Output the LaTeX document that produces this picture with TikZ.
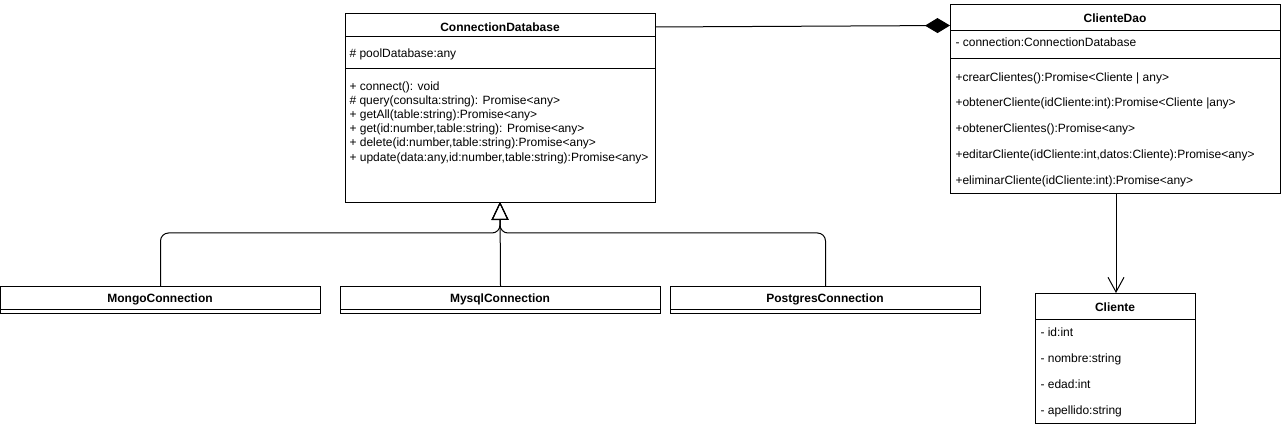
\documentclass[tikz,border=0pt]{standalone}
\usepackage{fontspec}
\setmainfont{Liberation Sans}
\usetikzlibrary{arrows.meta}
\begin{document}
\begin{tikzpicture}[x=0.75pt,y=-0.75pt,
  font=\fontsize{9}{11}\selectfont,
  line width=0.75pt,
  umlbox/.style={draw, inner sep=0pt, anchor=north west},
  title/.style={font=\fontsize{9}{11}\selectfont\bfseries, inner sep=0pt},
  txt/.style={anchor=mid west, inner sep=0pt},
  inherit/.style={-{Triangle[open,length=13.5pt,width=12.75pt]}, rounded corners=6pt},
  compose/.style={{Diamond[length=18.75pt,width=11.25pt]}-},
  assoc/.style={-{Straight Barb[length=11pt,width=12pt]}}]
\useasboundingbox (0,0) rectangle (1281,427);

% ConnectionDatabase
\node[umlbox, minimum width=310*0.75pt, minimum height=189*0.75pt] (cdb) at (345,13) {};
\draw (345,37) -- (655,37);
\draw (345,69) -- (655,69);
\node[title] (cdbT) at (500,27) {ConnectionDatabase};
\node[txt] (cdbA) at (349,54) {\# poolDatabase:any};
\node[txt] (cdbM1) at (349,86.5) {+ connect(): void};
\node[txt] (cdbM2) at (349,100.7) {\# query(consulta:string): Promise<any>};
\node[txt] (cdbM3) at (349,114.9) {+ getAll(table:string):Promise<any>};
\node[txt] (cdbM4) at (349,129.1) {+ get(id:number,table:string): Promise<any>};
\node[txt] (cdbM5) at (349,143.3) {+ delete(id:number,table:string):Promise<any>};
\node[txt] (cdbM6) at (349,157.5) {+ update(data:any,id:number,table:string):Promise<any>};

% ClienteDao
\node[umlbox, minimum width=330*0.75pt, minimum height=189*0.75pt] (dao) at (950,4) {};
\draw (950,31) -- (1280,31);
\draw (950,59) -- (1280,59);
\node[title] (daoT) at (1115,18.5) {ClienteDao};
\node[txt] (daoA) at (955,43) {- connection:ConnectionDatabase};
\node[txt] (daoM1) at (955,77.5) {+crearClientes():Promise<Cliente | any>};
\node[txt] (daoM2) at (955,103) {+obtenerCliente(idCliente:int):Promise<Cliente |any>};
\node[txt] (daoM3) at (955,129) {+obtenerClientes():Promise<any>};
\node[txt] (daoM4) at (955,155) {+editarCliente(idCliente:int,datos:Cliente):Promise<any>};
\node[txt] (daoM5) at (955,181) {+eliminarCliente(idCliente:int):Promise<any>};

% Cliente
\node[umlbox, minimum width=160*0.75pt, minimum height=130*0.75pt] (cli) at (1035,293) {};
\draw (1035,320) -- (1195,320);
\node[title] (cliT) at (1115,307.5) {Cliente};
\node[txt] (cliA1) at (1040,333) {- id:int};
\node[txt] (cliA2) at (1040,359) {- nombre:string};
\node[txt] (cliA3) at (1040,385) {- edad:int};
\node[txt] (cliA4) at (1040,411) {- apellido:string};

% Subclasses
\node[umlbox, minimum width=320*0.75pt, minimum height=27*0.75pt] (mongo) at (0,286) {};
\draw (0,310) -- (320,310);
\node[title] (mongoT) at (160,299) {MongoConnection};
\node[umlbox, minimum width=320*0.75pt, minimum height=27*0.75pt] (mysql) at (340,286) {};
\draw (340,310) -- (660,310);
\node[title] (mysqlT) at (500,299) {MysqlConnection};
\node[umlbox, minimum width=310*0.75pt, minimum height=27*0.75pt] (pg) at (670,286) {};
\draw (670,310) -- (980,310);
\node[title] (pgT) at (825,299) {PostgresConnection};

% connectors
\coordinate (j) at (500,233);
\coordinate (tip) at (500,202);
\draw[inherit] (mongo.north) |- (j) -- (tip);
\draw[inherit] (pg.north) |- (j) -- (tip);
\draw[inherit] (mysql.north) -- (tip);

\coordinate (cdbR) at (655,27);
\coordinate (daoL) at (950,25.5);
\draw[compose] (daoL) -- (cdbR);

\coordinate (daoB) at (1116,193);
\coordinate (cliTop) at (1116,293);
\draw[assoc] (daoB) -- (cliTop);
\end{tikzpicture}
\end{document}
